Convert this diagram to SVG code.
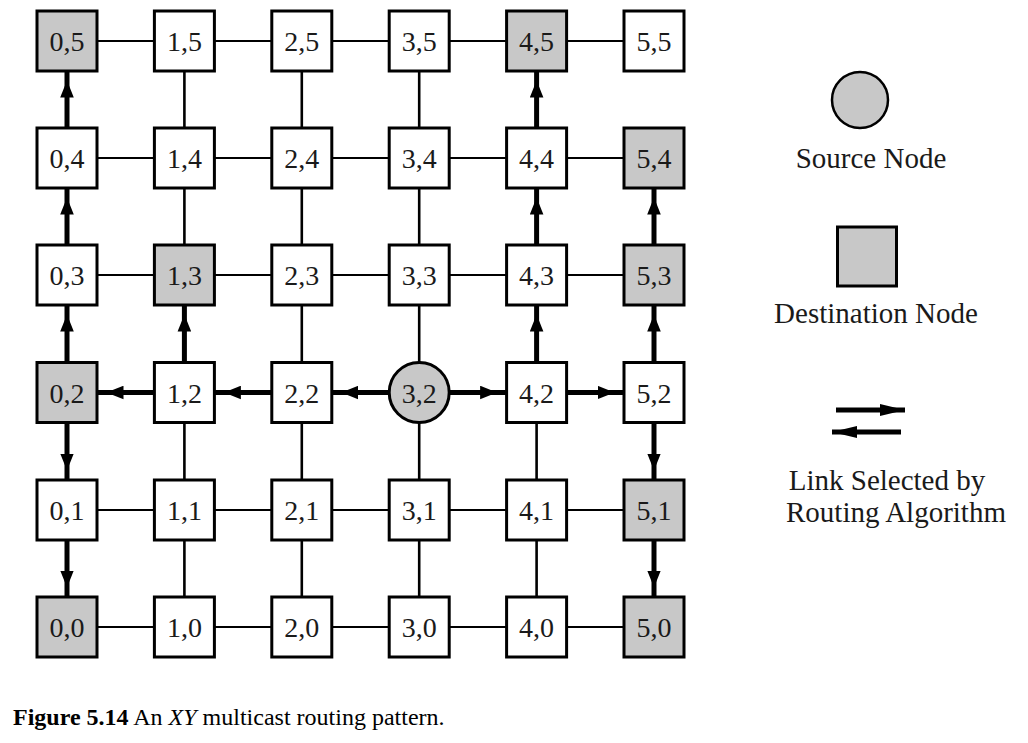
<svg xmlns="http://www.w3.org/2000/svg" width="1028" height="743" viewBox="0 0 1028 743">
<style>
.node{fill:#ffffff;stroke:#000;stroke-width:3}
.dst{fill:#c8c8c8;stroke:#000;stroke-width:3}
.lbl{font-family:"Liberation Serif","Times New Roman",serif;font-size:28px;fill:#1a1a1a;text-anchor:middle}
.leg{font-family:"Liberation Serif","Times New Roman",serif;font-size:29px;fill:#1a1a1a;text-anchor:middle}
.h{stroke:#000;stroke-width:2.2;fill:none}
.v{stroke:#000;stroke-width:2.6;fill:none}
.sel{stroke:#000;stroke-width:5;fill:none;marker-mid:url(#ah)}
.cap{font-family:"Liberation Serif","Times New Roman",serif;font-size:24px;fill:#000}
</style>
<defs>
<marker id="ah" markerUnits="userSpaceOnUse" viewBox="-17 -7 17 14" markerWidth="17" markerHeight="14" refX="0" refY="0" orient="auto">
<path d="M0,0 L-17,-6.8 L-17,6.8 Z" fill="#000"/>
</marker>
<marker id="lah" markerUnits="userSpaceOnUse" viewBox="-25 -7 25 14" markerWidth="25" markerHeight="14" refX="0" refY="0" orient="auto">
<path d="M0,0 L-25,-6 L-25,6 Z" fill="#000"/>
</marker>
</defs>
<rect width="1028" height="743" fill="#fff"/>
<g id="connectors">
<path class="h" d="M67,41H654M67,158H654M67,275H654M67,510H654M67,627H654"/>
<path class="v" d="M184.4,627V392.5M184.4,275V41M301.8,627V41M419.2,627V41M536.6,627V392.5"/>
<path class="sel" d="M419.2,392.5 L341.3,392.5 L301.8,392.5"/>
<path class="sel" d="M301.8,392.5 L223.9,392.5 L184.4,392.5"/>
<path class="sel" d="M184.4,392.5 L106.5,392.5 L67,392.5"/>
<path class="sel" d="M419.2,392.5 L497.1,392.5 L536.6,392.5"/>
<path class="sel" d="M536.6,392.5 L614.5,392.5 L654,392.5"/>
<path class="sel" d="M67,392.5 L67,314.5 L67,275"/>
<path class="sel" d="M67,275 L67,197.5 L67,158"/>
<path class="sel" d="M67,158 L67,80.5 L67,41"/>
<path class="sel" d="M67,392.5 L67,470.5 L67,510"/>
<path class="sel" d="M67,510 L67,587.5 L67,627"/>
<path class="sel" d="M184.4,392.5 L184.4,314.5 L184.4,275"/>
<path class="sel" d="M536.6,392.5 L536.6,314.5 L536.6,275"/>
<path class="sel" d="M536.6,275 L536.6,197.5 L536.6,158"/>
<path class="sel" d="M536.6,158 L536.6,80.5 L536.6,41"/>
<path class="sel" d="M654,392.5 L654,314.5 L654,275"/>
<path class="sel" d="M654,275 L654,197.5 L654,158"/>
<path class="sel" d="M654,392.5 L654,470.5 L654,510"/>
<path class="sel" d="M654,510 L654,587.5 L654,627"/>
</g>
<g id="n0_5"><rect class="dst" x="37" y="11" width="60" height="60"/><text class="lbl" x="67" y="51">0,5</text></g>
<g id="n1_5"><rect class="node" x="154.4" y="11" width="60" height="60"/><text class="lbl" x="184.4" y="51">1,5</text></g>
<g id="n2_5"><rect class="node" x="271.8" y="11" width="60" height="60"/><text class="lbl" x="301.8" y="51">2,5</text></g>
<g id="n3_5"><rect class="node" x="389.2" y="11" width="60" height="60"/><text class="lbl" x="419.2" y="51">3,5</text></g>
<g id="n4_5"><rect class="dst" x="506.6" y="11" width="60" height="60"/><text class="lbl" x="536.6" y="51">4,5</text></g>
<g id="n5_5"><rect class="node" x="624" y="11" width="60" height="60"/><text class="lbl" x="654" y="51">5,5</text></g>
<g id="n0_4"><rect class="node" x="37" y="128" width="60" height="60"/><text class="lbl" x="67" y="168">0,4</text></g>
<g id="n1_4"><rect class="node" x="154.4" y="128" width="60" height="60"/><text class="lbl" x="184.4" y="168">1,4</text></g>
<g id="n2_4"><rect class="node" x="271.8" y="128" width="60" height="60"/><text class="lbl" x="301.8" y="168">2,4</text></g>
<g id="n3_4"><rect class="node" x="389.2" y="128" width="60" height="60"/><text class="lbl" x="419.2" y="168">3,4</text></g>
<g id="n4_4"><rect class="node" x="506.6" y="128" width="60" height="60"/><text class="lbl" x="536.6" y="168">4,4</text></g>
<g id="n5_4"><rect class="dst" x="624" y="128" width="60" height="60"/><text class="lbl" x="654" y="168">5,4</text></g>
<g id="n0_3"><rect class="node" x="37" y="245" width="60" height="60"/><text class="lbl" x="67" y="285">0,3</text></g>
<g id="n1_3"><rect class="dst" x="154.4" y="245" width="60" height="60"/><text class="lbl" x="184.4" y="285">1,3</text></g>
<g id="n2_3"><rect class="node" x="271.8" y="245" width="60" height="60"/><text class="lbl" x="301.8" y="285">2,3</text></g>
<g id="n3_3"><rect class="node" x="389.2" y="245" width="60" height="60"/><text class="lbl" x="419.2" y="285">3,3</text></g>
<g id="n4_3"><rect class="node" x="506.6" y="245" width="60" height="60"/><text class="lbl" x="536.6" y="285">4,3</text></g>
<g id="n5_3"><rect class="dst" x="624" y="245" width="60" height="60"/><text class="lbl" x="654" y="285">5,3</text></g>
<g id="n0_2"><rect class="dst" x="37" y="362.5" width="60" height="60"/><text class="lbl" x="67" y="402.5">0,2</text></g>
<g id="n1_2"><rect class="node" x="154.4" y="362.5" width="60" height="60"/><text class="lbl" x="184.4" y="402.5">1,2</text></g>
<g id="n2_2"><rect class="node" x="271.8" y="362.5" width="60" height="60"/><text class="lbl" x="301.8" y="402.5">2,2</text></g>
<g id="n3_2"><circle class="dst" cx="419.2" cy="392.5" r="30"/><text class="lbl" x="419.2" y="402.5">3,2</text></g>
<g id="n4_2"><rect class="node" x="506.6" y="362.5" width="60" height="60"/><text class="lbl" x="536.6" y="402.5">4,2</text></g>
<g id="n5_2"><rect class="node" x="624" y="362.5" width="60" height="60"/><text class="lbl" x="654" y="402.5">5,2</text></g>
<g id="n0_1"><rect class="node" x="37" y="480" width="60" height="60"/><text class="lbl" x="67" y="520">0,1</text></g>
<g id="n1_1"><rect class="node" x="154.4" y="480" width="60" height="60"/><text class="lbl" x="184.4" y="520">1,1</text></g>
<g id="n2_1"><rect class="node" x="271.8" y="480" width="60" height="60"/><text class="lbl" x="301.8" y="520">2,1</text></g>
<g id="n3_1"><rect class="node" x="389.2" y="480" width="60" height="60"/><text class="lbl" x="419.2" y="520">3,1</text></g>
<g id="n4_1"><rect class="node" x="506.6" y="480" width="60" height="60"/><text class="lbl" x="536.6" y="520">4,1</text></g>
<g id="n5_1"><rect class="dst" x="624" y="480" width="60" height="60"/><text class="lbl" x="654" y="520">5,1</text></g>
<g id="n0_0"><rect class="dst" x="37" y="597" width="60" height="60"/><text class="lbl" x="67" y="637">0,0</text></g>
<g id="n1_0"><rect class="node" x="154.4" y="597" width="60" height="60"/><text class="lbl" x="184.4" y="637">1,0</text></g>
<g id="n2_0"><rect class="node" x="271.8" y="597" width="60" height="60"/><text class="lbl" x="301.8" y="637">2,0</text></g>
<g id="n3_0"><rect class="node" x="389.2" y="597" width="60" height="60"/><text class="lbl" x="419.2" y="637">3,0</text></g>
<g id="n4_0"><rect class="node" x="506.6" y="597" width="60" height="60"/><text class="lbl" x="536.6" y="637">4,0</text></g>
<g id="n5_0"><rect class="dst" x="624" y="597" width="60" height="60"/><text class="lbl" x="654" y="637">5,0</text></g>
<g id="legend">
<circle cx="860" cy="100" r="28" fill="#c8c8c8" stroke="#000" stroke-width="2.5"/>
<text class="leg" x="871" y="168">Source Node</text>
<rect x="837.5" y="227" width="59" height="59" fill="#c8c8c8" stroke="#000" stroke-width="3"/>
<text class="leg" x="876" y="323">Destination Node</text>
<path d="M836,410 H905" stroke="#000" stroke-width="5" marker-end="url(#lah)" fill="none"/>
<path d="M901,432 H832" stroke="#000" stroke-width="5" marker-end="url(#lah)" fill="none"/>
<text class="leg" x="887" y="490">Link Selected by</text>
<text class="leg" x="896" y="522">Routing Algorithm</text>
</g>
<text class="cap" x="13" y="725"><tspan font-weight="bold">Figure 5.14</tspan> An <tspan font-style="italic">XY</tspan> multicast routing pattern.</text>
</svg>
